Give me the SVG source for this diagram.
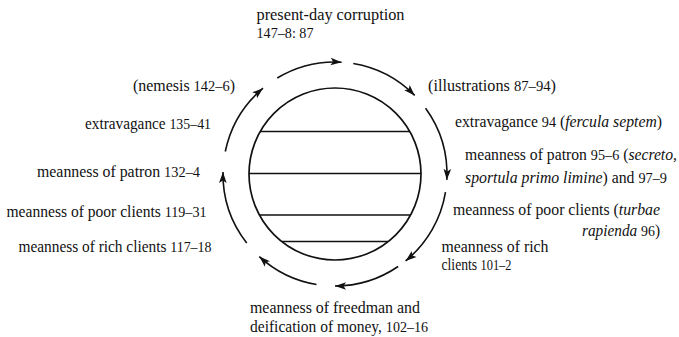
<svg xmlns="http://www.w3.org/2000/svg" width="679" height="337" viewBox="0 0 679 337">
<style>
text{font-family:"Liberation Serif","Times New Roman",serif;font-size:16px;fill:#111}
.it{font-style:italic}
.n{font-size:14.5px}
.arc{fill:none;stroke:#111;stroke-width:1.6}
.ln{stroke:#111;stroke-width:1.5}
.circ{fill:none;stroke:#111;stroke-width:1.7}
</style>
<defs>
<marker id="ah" viewBox="-12 -5 13 10" markerWidth="13" markerHeight="10" refX="0" refY="0" orient="auto" markerUnits="userSpaceOnUse">
<path d="M0,0 L-11,-3.8 L-8.5,0 L-11,3.8 Z" fill="#111"/>
</marker>
</defs>
<rect width="679" height="337" fill="#fff"/>
<g id="centre">
<circle class="circ" cx="335" cy="174" r="86"/>
<line class="ln" x1="260" y1="131.5" x2="410" y2="131.5"/>
<line class="ln" x1="249" y1="173.5" x2="421" y2="173.5"/>
<line class="ln" x1="259.5" y1="215" x2="410.5" y2="215"/>
<line class="ln" x1="282" y1="241.5" x2="388" y2="241.5"/>
</g>
<g id="connectors">
<path class="arc" marker-end="url(#ah)" d="M277.3,78 A112,112 0 0 1 341.6,62.2"/>
<path class="arc" marker-end="url(#ah)" d="M353.3,63.5 A112,112 0 0 1 414.7,95.4"/>
<path class="arc" marker-end="url(#ah)" d="M425.6,108.2 A112,112 0 0 1 446.8,179.9"/>
<path class="arc" marker-end="url(#ah)" d="M445.5,192.1 A112,112 0 0 1 405.6,260.9"/>
<path class="arc" marker-end="url(#ah)" d="M398.1,266.5 A112,112 0 0 1 335,286"/>
<path class="arc" marker-end="url(#ah)" d="M316.5,284.5 A112,112 0 0 1 259.3,256.6"/>
<path class="arc" marker-end="url(#ah)" d="M246.7,243 A112,112 0 0 1 223,172"/>
<path class="arc" marker-end="url(#ah)" d="M225.3,151.5 A112,112 0 0 1 263,88.2"/>
</g>
<g id="n-top">
<text x="256.5" y="20" textLength="148" lengthAdjust="spacingAndGlyphs">present-day corruption</text>
<text x="256.5" y="38" textLength="57" lengthAdjust="spacingAndGlyphs"><tspan class="n">147–8: 87</tspan></text>
</g>
<g id="n-illustrations">
<text x="428" y="91" textLength="128" lengthAdjust="spacingAndGlyphs">(illustrations <tspan class="n">87–94</tspan>)</text>
</g>
<g id="n-extravagance-r">
<text x="455" y="127" textLength="207" lengthAdjust="spacingAndGlyphs">extravagance <tspan class="n">94</tspan> (<tspan class="it">fercula septem</tspan>)</text>
</g>
<g id="n-patron-r">
<text x="465" y="160" textLength="212" lengthAdjust="spacingAndGlyphs">meanness of patron <tspan class="n">95–6</tspan> (<tspan class="it">secreto,</tspan></text>
<text x="465" y="183" textLength="202" lengthAdjust="spacingAndGlyphs"><tspan class="it">sportula primo limine</tspan>) and <tspan class="n">97–9</tspan></text>
</g>
<g id="n-poor-r">
<text x="453" y="215" textLength="207" lengthAdjust="spacingAndGlyphs">meanness of poor clients (<tspan class="it">turbae</tspan></text>
<text x="582" y="236" textLength="78" lengthAdjust="spacingAndGlyphs"><tspan class="it">rapienda</tspan> <tspan class="n">96</tspan>)</text>
</g>
<g id="n-rich-r">
<text x="441.5" y="252" textLength="107" lengthAdjust="spacingAndGlyphs">meanness of rich</text>
<text x="441.5" y="270" textLength="70" lengthAdjust="spacingAndGlyphs">clients <tspan class="n">101–2</tspan></text>
</g>
<g id="n-freedman">
<text x="250" y="313" textLength="170" lengthAdjust="spacingAndGlyphs">meanness of freedman and</text>
<text x="250" y="332" textLength="178" lengthAdjust="spacingAndGlyphs">deification of money, <tspan class="n">102–16</tspan></text>
</g>
<g id="n-rich-l">
<text x="18.5" y="252" textLength="193" lengthAdjust="spacingAndGlyphs">meanness of rich clients <tspan class="n">117–18</tspan></text>
</g>
<g id="n-poor-l">
<text x="6.5" y="217" textLength="200" lengthAdjust="spacingAndGlyphs">meanness of poor clients <tspan class="n">119–31</tspan></text>
</g>
<g id="n-patron-l">
<text x="37" y="177" textLength="163" lengthAdjust="spacingAndGlyphs">meanness of patron <tspan class="n">132–4</tspan></text>
</g>
<g id="n-extravagance-l">
<text x="85" y="128.5" textLength="126" lengthAdjust="spacingAndGlyphs">extravagance <tspan class="n">135–41</tspan></text>
</g>
<g id="n-nemesis">
<text x="133" y="91" textLength="102" lengthAdjust="spacingAndGlyphs">(nemesis <tspan class="n">142–6</tspan>)</text>
</g>
</svg>
